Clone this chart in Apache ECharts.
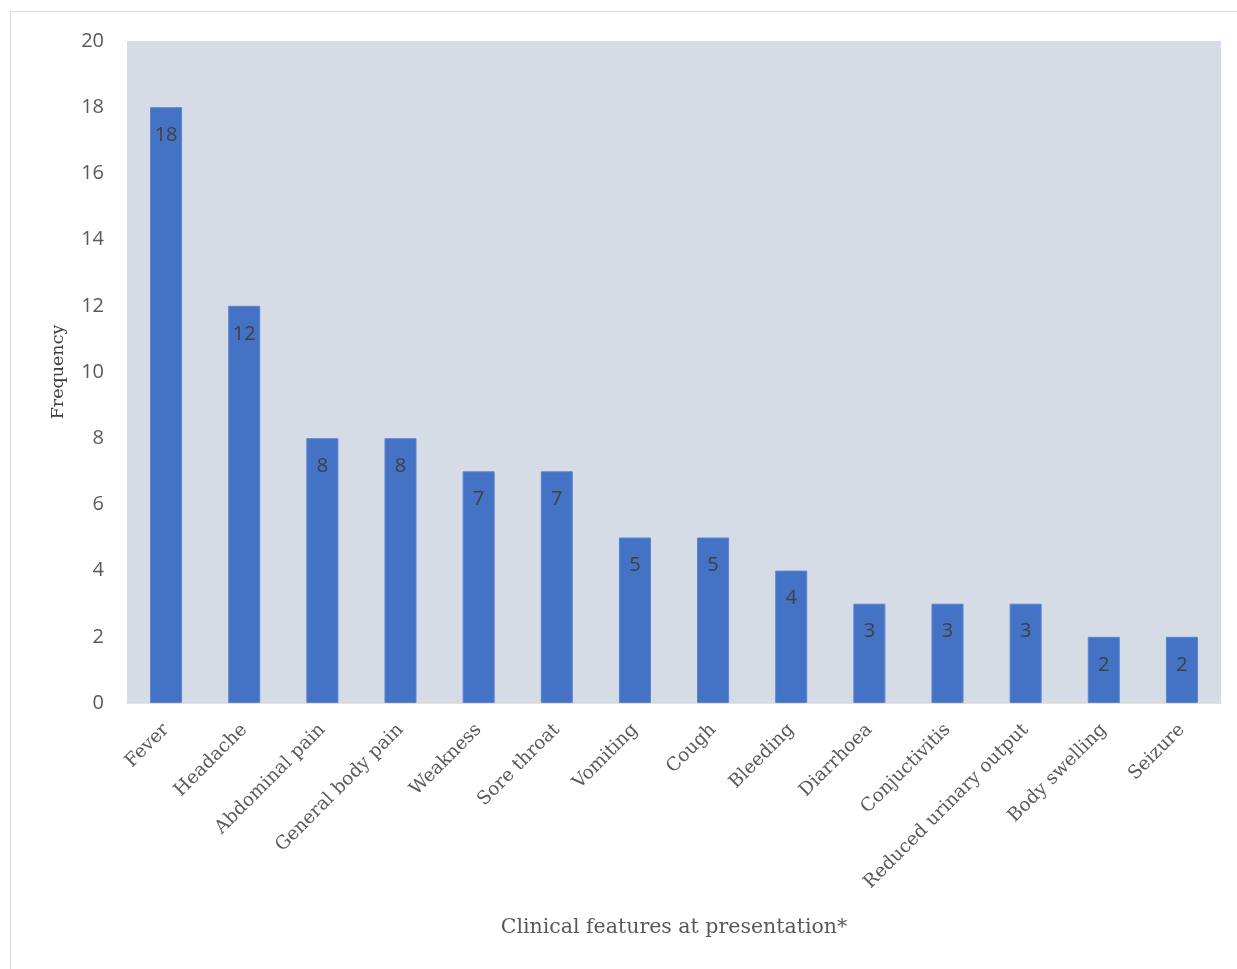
<!DOCTYPE html>
<html>
<head>
<meta charset="utf-8">
<script src="https://cdn.jsdelivr.net/npm/echarts@6/dist/echarts.min.js"></script>
<style>
  html, body { margin: 0; padding: 0; background: #fff; }
  #frame {
    position: absolute; left: 10px; top: 11px; width: 1240px; height: 970px;
    border: 1.5px solid #d9d9d9; box-sizing: border-box;
  }
  #chart { position: absolute; left: 0; top: 0; width: 1237px; height: 969px; }
</style>
</head>
<body>
<div id="frame"></div>
<div id="chart"></div>
<script>
// clinical features at presentation
const features = [
  'Fever', 'Headache', 'Abdominal pain', 'General body pain', 'Weakness',
  'Sore throat', 'Vomiting', 'Cough', 'Bleeding', 'Diarrhoea',
  'Conjuctivitis', 'Reduced urinary output', 'Body swelling', 'Seizure'
]
const frequency = [18, 12, 8, 8, 7, 7, 5, 5, 4, 3, 3, 3, 2, 2]
const yTicks = [0, 2, 4, 6, 8, 10, 12, 14, 16, 18, 20]

const chart = echarts.init(document.getElementById('chart'))

const option = {
  animation: false,
  grid: {
    left: 127,
    right: 16,
    top: 41,
    bottom: 266,
    show: true,
    backgroundColor: '#d6dce5',
    borderWidth: 0
  },
  xAxis: {
    type: 'category',
    data: features,
    name: 'Clinical features at presentation*',
    nameLocation: 'middle',
    nameGap: 214,
    nameTextStyle: {
      fontFamily: 'DejaVu Serif',
      fontSize: 20.5,
      color: '#595959'
    },
    axisTick: { show: false },
    axisLine: { show: true, lineStyle: { color: '#d9d9d9', width: 1.5 } },
    axisLabel: {
      interval: 0,
      rotate: 45,
      margin: 24,
      fontFamily: 'DejaVu Serif',
      fontSize: 18.5,
      color: '#595959'
    }
  },
  yAxis: {
    type: 'value',
    min: yTicks[0],
    max: yTicks[yTicks.length - 1],
    interval: 2,
    name: 'Frequency',
    nameLocation: 'middle',
    nameGap: 60,
    nameTextStyle: {
      fontFamily: 'DejaVu Serif',
      fontSize: 17.5,
      color: '#404040'
    },
    axisLine: { show: false },
    axisTick: { show: false },
    splitLine: { show: false },
    axisLabel: {
      margin: 23,
      fontFamily: 'Open Sans',
      fontSize: 20,
      color: '#595959'
    }
  },
  series: [
    {
      type: 'bar',
      data: frequency,
      barWidth: '41%',
      itemStyle: {
        color: '#4472c4',
        borderColor: '#5b85d0',
        borderWidth: 1
      },
      label: {
        show: true,
        position: 'insideTop',
        distance: 18,
        fontFamily: 'Open Sans',
        fontSize: 20,
        color: '#404040'
      }
    }
  ]
}

chart.setOption(option)
</script>
</body>
</html>
